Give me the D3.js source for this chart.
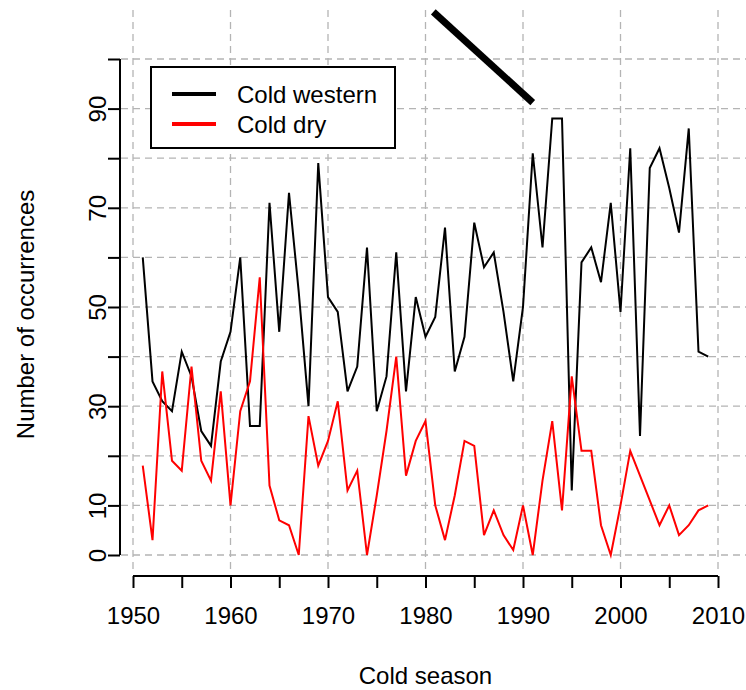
<!DOCTYPE html>
<html>
<head>
<meta charset="utf-8">
<script src="https://cdn.jsdelivr.net/npm/d3@7"></script>
<style>
  html, body { margin: 0; padding: 0; background: #fff; }
  svg { display: block; }
  text { font-family: "Liberation Sans", Arial, sans-serif; fill: #000; }
</style>
</head>
<body>
<svg id="chart" width="746" height="690"></svg>
<script>
// Cold seasons 1951–2009
const years = d3.range(1951, 2010);

// Number of cold western occurrences per season
const coldWestern = [
  60, 35, 31, 29, 41, 36, 25, 22, 39, 45,
  60, 26, 26, 71, 45, 73, 53, 30, 79, 52,
  49, 33, 38, 62, 29, 36, 61, 33, 52, 44,
  48, 66, 37, 44, 67, 58, 61, 49, 35, 50,
  81, 62, 88, 88, 13, 59, 62, 55, 71, 49,
  82, 24, 78, 82, 74, 65, 86, 41, 40
];

// Number of cold dry occurrences per season
const coldDry = [
  18, 3, 37, 19, 17, 38, 19, 15, 33, 10,
  29, 35, 56, 14, 7, 6, 0, 28, 18, 23,
  31, 13, 17, 0, 12, 25, 40, 16, 23, 27,
  10, 3, 12, 23, 22, 4, 9, 4, 1, 10,
  0, 15, 27, 9, 36, 21, 21, 6, 0, 10,
  21, 16, 11, 6, 10, 4, 6, 9, 10
];

const seriesNames = ["Cold western", "Cold dry"];
const seriesColors = ["#000000", "#ff0000"];

// Axis ticks
const xTicks = d3.range(1950, 2011, 5);
const xTickLabels = [1950, 1960, 1970, 1980, 1990, 2000, 2010];
const yTicks = d3.range(0, 101, 10);
const yTickLabels = [0, 10, 30, 50, 70, 90];

// Pointer line drawn across the top of the panel (season, count)
const pointerX = [1980.8, 1991.0];
const pointerY = [109.5, 91.2];

const svg = d3.select("#chart");

const x = d3.scaleLinear().domain([1950, 2010]).range([133, 718]);
const y = d3.scaleLinear().domain([0, 100]).range([555, 59]);

// Grid
const grid = svg.append("g")
  .attr("stroke", "#b4b4b4")
  .attr("stroke-width", 1.3)
  .attr("stroke-dasharray", "7,5");
grid.selectAll("line.v")
  .data(d3.range(1950, 2011, 10))
  .join("line")
  .attr("class", "v")
  .attr("x1", d => x(d)).attr("x2", d => x(d))
  .attr("y1", 10).attr("y2", 572);
grid.selectAll("line.h")
  .data(yTicks)
  .join("line")
  .attr("class", "h")
  .attr("x1", 121).attr("x2", 746)
  .attr("y1", d => y(d)).attr("y2", d => y(d));

// Y axis
const yAxis = d3.axisLeft(y)
  .tickValues(yTicks)
  .tickSize(12)
  .tickFormat(d => yTickLabels.includes(d) ? d : "");
const gy = svg.append("g").attr("transform", "translate(120,0)").call(yAxis);
gy.select(".domain").attr("stroke", "#000").attr("stroke-width", 2)
  .attr("d", `M0,${y(0)}V${y(100)}`);
gy.selectAll(".tick line").attr("stroke", "#000").attr("stroke-width", 2);
gy.selectAll(".tick text")
  .attr("font-size", 24)
  .attr("font-family", "Liberation Sans, Arial, sans-serif")
  .attr("x", 0).attr("dy", 0)
  .attr("text-anchor", "middle")
  .attr("transform", "translate(-14,0) rotate(-90)");

// X axis
const xAxis = d3.axisBottom(x)
  .tickValues(xTicks)
  .tickSize(12)
  .tickFormat(d => xTickLabels.includes(d) ? d : "");
const gx = svg.append("g").attr("transform", "translate(0,576)").call(xAxis);
gx.select(".domain").attr("stroke", "#000").attr("stroke-width", 2)
  .attr("d", `M${x(1950)},0H${x(2010)}`);
gx.selectAll(".tick line").attr("stroke", "#000").attr("stroke-width", 2);
gx.selectAll(".tick text")
  .attr("font-size", 24)
  .attr("font-family", "Liberation Sans, Arial, sans-serif")
  .attr("y", 48).attr("dy", 0);

// Axis titles
svg.append("text")
  .attr("x", x(1980)).attr("y", 684)
  .attr("text-anchor", "middle")
  .attr("font-size", 24)
  .text("Cold season");
svg.append("text")
  .attr("transform", `translate(34,${y(48.5)}) rotate(-90)`)
  .attr("text-anchor", "middle")
  .attr("font-size", 24)
  .text("Number of occurrences");

// Series lines
const line = d3.line().x(d => x(d[0])).y(d => y(d[1]));
[coldWestern, coldDry].forEach((vals, i) => {
  svg.append("path")
    .datum(years.map((yr, j) => [yr, vals[j]]))
    .attr("fill", "none")
    .attr("stroke", seriesColors[i])
    .attr("stroke-width", 2)
    .attr("stroke-linejoin", "miter")
    .attr("d", line);
});

// Legend
const legend = svg.append("g").attr("transform", "translate(151,67)");
legend.append("rect")
  .attr("width", 244).attr("height", 81)
  .attr("fill", "#fff").attr("stroke", "#000").attr("stroke-width", 2);
seriesNames.forEach((name, i) => {
  const gy0 = 27 + i * 30;
  legend.append("line")
    .attr("x1", 21).attr("x2", 65)
    .attr("y1", gy0).attr("y2", gy0)
    .attr("stroke", seriesColors[i]).attr("stroke-width", 4);
  legend.append("text")
    .attr("x", 86).attr("y", gy0 + 9)
    .attr("font-size", 24)
    .text(name);
});

// Pointer line
svg.append("line")
  .attr("x1", x(pointerX[0])).attr("y1", y(pointerY[0]))
  .attr("x2", x(pointerX[1])).attr("y2", y(pointerY[1]))
  .attr("stroke", "#000").attr("stroke-width", 7);
</script>
</body>
</html>
